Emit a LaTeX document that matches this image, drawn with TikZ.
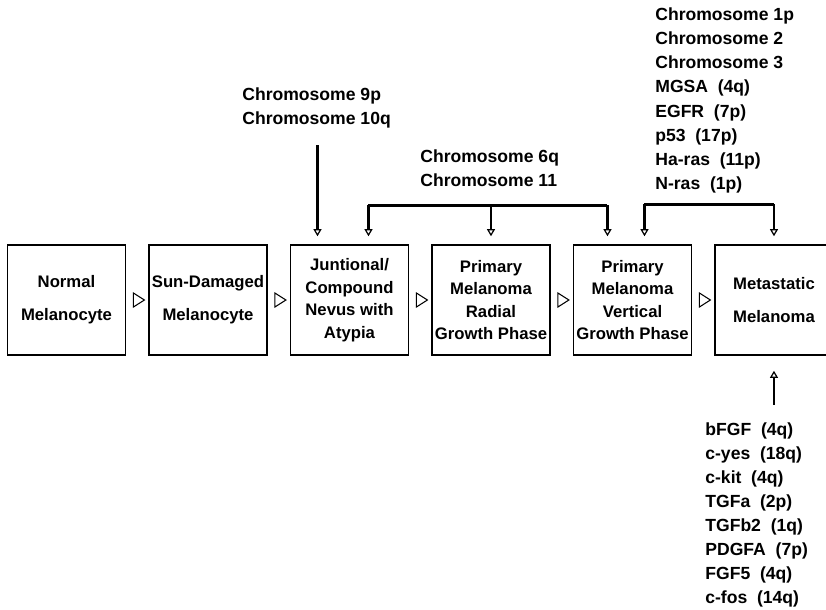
\documentclass[tikz,border=0pt]{standalone}
\usepackage{fontspec}
\setmainfont{Liberation Sans}
\usepackage{tikz}
\usetikzlibrary{shapes.geometric,arrows.meta,positioning,calc}

\begin{document}
\begin{tikzpicture}[
    node distance=0.44cm,
    stage/.style={draw, line width=0.85pt, minimum width=2.36cm, minimum height=2.2cm, inner sep=1pt, align=center, font=\fontsize{9.5}{12.8}\selectfont\bfseries},
    twoline/.style={font=\fontsize{9.5}{18.7}\selectfont\bfseries},
    gene/.style={anchor=north west, inner sep=0pt, align=left, font=\fontsize{10}{13.8}\selectfont\bfseries},
    pointer/.style={draw, isosceles triangle, isosceles triangle apex angle=65, inner sep=0pt, minimum height=0.22cm, line width=0.6pt},
    feed/.style={line width=1.6pt, -{Triangle[open, length=4pt, width=4.5pt, line width=0.7pt]}}
]
    \useasboundingbox (0,0) rectangle (16.52,-12.18);

    % Progression stages
    \node[stage, twoline] (normal) at (1.33,-6.00) {Normal\\Melanocyte};
    \node[stage, twoline, right=of normal] (sundmg) {Sun-Damaged\\Melanocyte};
    \node[stage, right=of sundmg] (nevus) {Juntional/\\Compound\\Nevus with\\Atypia};
    \node[stage, right=of nevus] (radial) {Primary\\Melanoma\\Radial\\Growth Phase};
    \node[stage, right=of radial] (vertical) {Primary\\Melanoma\\Vertical\\Growth Phase};
    \node[stage, twoline, right=of vertical] (metast) {Metastatic\\Melanoma};

    % Step markers
    \path (normal.east) -- node[pointer] (p1) {} (sundmg.west);
    \path (sundmg.east) -- node[pointer] (p2) {} (nevus.west);
    \path (nevus.east) -- node[pointer] (p3) {} (radial.west);
    \path (radial.east) -- node[pointer] (p4) {} (vertical.west);
    \path (vertical.east) -- node[pointer] (p5) {} (metast.west);

    % Chromosomal and gene changes
    \node[gene] (chrnine) at (4.84,-1.74) {Chromosome 9p\\Chromosome 10q};
    \node[gene] (chrsix) at (8.40,-2.98) {Chromosome 6q\\Chromosome 11};
    \node[gene] (late) at (13.10,-0.14) {Chromosome 1p\\Chromosome 2\\Chromosome 3\\MGSA\ \ (4q)\\EGFR\ \ (7p)\\p53\ \ (17p)\\Ha-ras\ \ (11p)\\N-ras\ \ (1p)};
    \node[gene, font=\fontsize{10}{13.7}\selectfont\bfseries] (growth) at (14.10,-8.44) {bFGF\ \ (4q)\\c-yes\ \ (18q)\\c-kit\ \ (4q)\\TGFa\ \ (2p)\\TGFb2\ \ (1q)\\PDGFA\ \ (7p)\\FGF5\ \ (4q)\\c-fos\ \ (14q)};

    % Arrows
    \draw[feed] ([xshift=-0.64cm,yshift=1.98cm]nevus.north) -- ([xshift=-0.64cm,yshift=0.16cm]nevus.north);
    \coordinate (bar6) at ([yshift=0.78cm]radial.north);
    \draw[line width=1.6pt] ([xshift=0.38cm]bar6 -| nevus.north) -- ([xshift=-0.50cm]bar6 -| vertical.north);
    \draw[feed] ([xshift=0.38cm]bar6 -| nevus.north) -- ([xshift=0.38cm,yshift=0.16cm]nevus.north);
    \draw[feed] (bar6) -- ([yshift=0.16cm]radial.north);
    \draw[feed] ([xshift=-0.50cm]bar6 -| vertical.north) -- ([xshift=-0.50cm,yshift=0.16cm]vertical.north);
    \coordinate (bar1) at ([yshift=0.80cm]metast.north);
    \draw[line width=1.6pt] ([xshift=0.24cm]bar1 -| vertical.north) -- (bar1);
    \draw[feed] ([xshift=0.24cm]bar1 -| vertical.north) -- ([xshift=0.24cm,yshift=0.16cm]vertical.north);
    \draw[feed] (bar1) -- ([yshift=0.16cm]metast.north);
    \draw[feed] ([yshift=-0.98cm]metast.south) -- ([yshift=-0.30cm]metast.south);
\end{tikzpicture}
\end{document}
